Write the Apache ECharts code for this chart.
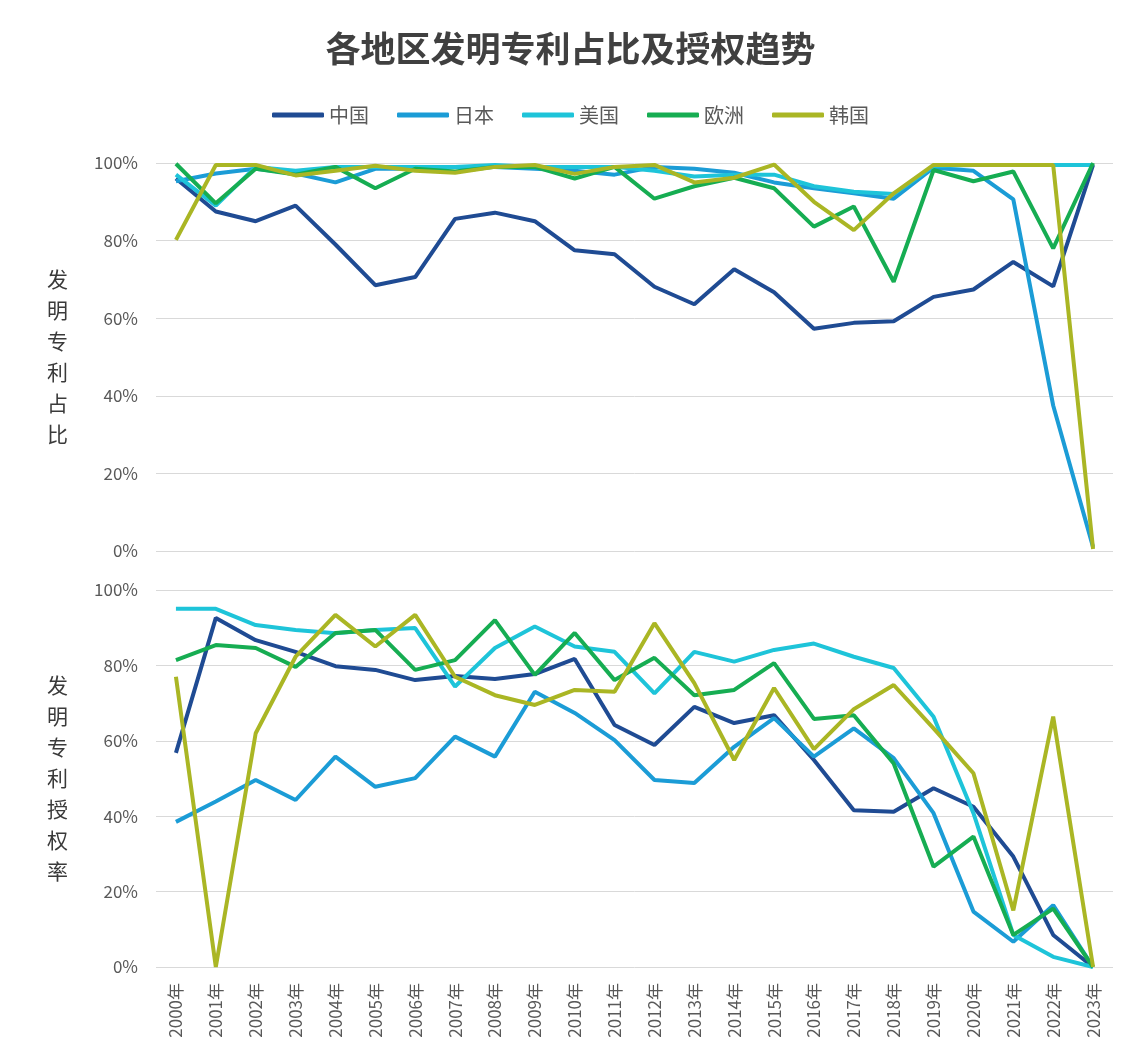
<!DOCTYPE html>
<html>
<head>
<meta charset="utf-8">
<script src="https://cdn.jsdelivr.net/npm/echarts@6/dist/echarts.min.js"></script>
<style>
  html, body { margin: 0; padding: 0; background: #fff; }
  #main { width: 1141px; height: 1059px; }
</style>
</head>
<body>
<div id="main"></div>
<script>
// 年份
var years = ['2000年', '2001年', '2002年', '2003年', '2004年', '2005年', '2006年', '2007年',
  '2008年', '2009年', '2010年', '2011年', '2012年', '2013年', '2014年', '2015年',
  '2016年', '2017年', '2018年', '2019年', '2020年', '2021年', '2022年', '2023年']
var regions = ['中国', '日本', '美国', '欧洲', '韩国']
var colors = ['#1f4b93', '#1b9cd6', '#1ec4d9', '#16ad52', '#aab624']
var yTicks = [0, 20, 40, 60, 80, 100]

// 发明专利占比 (%)
var shareChina = [96, 87.5, 85, 89, 79, 68.5, 70.6, 85.6, 87.2, 85, 77.5, 76.5, 68.1, 63.6, 72.6, 66.7, 57.3, 58.8, 59.2, 65.5, 67.4, 74.5, 68.2, 99.5]
var shareJapan = [95.3, 97.3, 98.5, 97.3, 95, 98.5, 98.5, 99, 99, 98.5, 98, 97, 99, 98.5, 97.5, 95, 93.5, 92.2, 90.8, 98.8, 98, 90.6, 37.5, 1]
var shareUSA = [97, 89, 99, 98, 99, 99, 99, 99, 99.5, 99, 99, 99, 98, 96.5, 97, 97, 94, 92.6, 92, 99.2, 99.5, 99.5, 99.5, 99.5]
var shareEurope = [99.8, 89.6, 98.5, 97, 99, 93.5, 98.5, 97.8, 99, 99, 96, 99, 90.8, 94, 96.2, 93.5, 83.6, 88.8, 69.4, 98.2, 95.3, 97.8, 78, 100]
var shareKorea = [80.2, 99.5, 99.5, 96.8, 98, 99.3, 98, 97.5, 99, 99.5, 97.2, 99, 99.5, 95, 96.2, 99.6, 90, 82.7, 92.2, 99.5, 99.5, 99.5, 99.5, 0.5]

// 发明专利授权率 (%)
var rateChina = [56.8, 92.6, 86.7, 83.6, 79.8, 78.8, 76.1, 77.2, 76.4, 77.7, 81.7, 64.2, 58.9, 69, 64.7, 66.8, 54.9, 41.6, 41.2, 47.4, 42.5, 29.3, 8.5, 0]
var rateJapan = [38.5, 43.9, 49.6, 44.3, 55.8, 47.8, 50.1, 61.1, 55.8, 73, 67.4, 60.2, 49.6, 48.8, 58.4, 66, 55.8, 63.3, 55.4, 40.8, 14.7, 6.7, 16.4, 0]
var rateUSA = [95, 95, 90.7, 89.4, 88.5, 89.4, 89.9, 74.4, 84.6, 90.3, 85, 83.6, 72.6, 83.6, 81, 84.1, 85.8, 82.3, 79.3, 66.4, 40.8, 8.5, 2.7, 0]
var rateEurope = [81.4, 85.4, 84.6, 79.6, 88.6, 89.4, 78.8, 81.4, 92, 77.5, 88.6, 76.1, 82, 72.1, 73.5, 80.6, 65.8, 66.8, 54, 26.6, 34.6, 8.5, 15.5, 0]
var rateKorea = [77, 0, 62, 82.3, 93.4, 85, 93.4, 77, 72.1, 69.5, 73.5, 73, 91.2, 75.3, 54.9, 74, 57.8, 68.4, 74.8, 63.3, 51.4, 15, 66.4, 0]

var shareData = [shareChina, shareJapan, shareUSA, shareEurope, shareKorea]
var rateData = [rateChina, rateJapan, rateUSA, rateEurope, rateKorea]

var fontFamily = '"Noto Sans CJK SC", "Noto Sans", sans-serif'
var labelColor = '#595959'

// y轴配置
function yAxisOf(gridIndex, name) {
  return {
    type: 'value',
    gridIndex: gridIndex,
    min: yTicks[0],
    max: yTicks[yTicks.length - 1],
    interval: 20,
    name: name.split('').join('\n'),
    nameLocation: 'middle',
    nameRotate: 0,
    nameGap: 88,
    nameTextStyle: { fontSize: 21, lineHeight: 31, color: '#3a3a3a', fontFamily: fontFamily },
    axisLine: { show: false },
    axisTick: { show: false },
    axisLabel: { formatter: '{value}%', fontSize: 17, color: labelColor, margin: 18, fontFamily: fontFamily },
    splitLine: { lineStyle: { color: '#d9d9d9', width: 1 } }
  }
}

// 折线系列
function seriesOf(data, axisIndex) {
  return data.map(function (d, i) {
    return {
      name: regions[i],
      type: 'line',
      xAxisIndex: axisIndex,
      yAxisIndex: axisIndex,
      data: d,
      showSymbol: false,
      symbol: 'none',
      color: colors[i],
      lineStyle: { width: 4, color: colors[i] },
      z: 2 + i
    }
  })
}

var myChart = echarts.init(document.getElementById('main'))
var option = {
  backgroundColor: '#fff',
  animation: false,
  textStyle: { fontFamily: fontFamily },
  title: {
    text: '各地区发明专利占比及授权趋势',
    left: 'center',
    top: 26,
    textStyle: { fontSize: 35, fontWeight: 'bold', color: '#404040', fontFamily: fontFamily }
  },
  legend: {
    data: regions,
    top: 100,
    left: 'center',
    icon: 'roundRect',
    itemWidth: 52,
    itemHeight: 5,
    itemGap: 28,
    textStyle: { fontSize: 20, color: labelColor, fontFamily: fontFamily }
  },
  grid: [
    { left: 156, right: 28, top: 163, height: 388 },
    { left: 156, right: 28, top: 590, height: 377 }
  ],
  xAxis: [
    {
      type: 'category',
      gridIndex: 0,
      data: years,
      boundaryGap: true,
      axisLine: { show: false },
      axisTick: { show: false },
      axisLabel: { show: false }
    },
    {
      type: 'category',
      gridIndex: 1,
      data: years,
      boundaryGap: true,
      axisLine: { show: false },
      axisTick: { show: false },
      axisLabel: { rotate: 90, fontSize: 17, color: labelColor, margin: 16, interval: 0, fontFamily: fontFamily }
    }
  ],
  yAxis: [yAxisOf(0, '发明专利占比'), yAxisOf(1, '发明专利授权率')],
  series: seriesOf(shareData, 0).concat(seriesOf(rateData, 1))
}
option && myChart.setOption(option, true)
</script>
</body>
</html>
